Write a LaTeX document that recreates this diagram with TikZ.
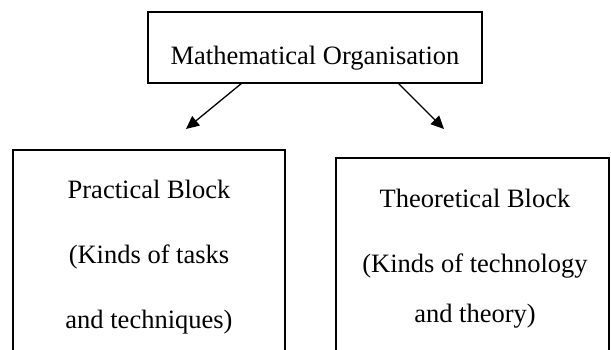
\documentclass[tikz,border=0pt]{standalone}
\usepackage{fontspec}
\setmainfont{Liberation Serif}
\usetikzlibrary{arrows.meta}
\begin{document}
\begin{tikzpicture}[x=1pt,y=-1pt,
  box/.style={draw,line width=1.5pt,inner sep=0,outer sep=0,rectangle},
  lbl/.style={font=\fontsize{26.5}{30}\selectfont,anchor=base,inner sep=0},
  arr/.style={line width=1.3pt,-{Triangle[length=13pt,width=12pt]}}]
\useasboundingbox (0,0) rectangle (611,349);
\clip (0,0) rectangle (611,349);
\node[box,minimum width=334,minimum height=71,anchor=north west] (top) at (148,12) {};
\node[lbl] (ttop) at (315,64) {Mathematical Organisation};
\node[box,minimum width=272,minimum height=230,anchor=north west] (left) at (13,150) {};
\node[lbl] (l1) at (149,198) {Practical Block};
\node[lbl] (l2) at (149,263) {(Kinds of tasks};
\node[lbl] (l3) at (149,328) {and techniques)};
\node[box,minimum width=273,minimum height=230,anchor=north west] (right) at (336,158) {};
\node[lbl] (r1) at (475,207) {Theoretical Block};
\node[lbl] (r2) at (475,272) {(Kinds of technology};
\node[lbl] (r3) at (475,322) {and theory)};
\coordinate (lt) at (186,129);
\coordinate (rt) at (444,129);
\draw[arr] ([xshift=94pt]top.south west) -- (lt);
\draw[arr] ([xshift=250pt]top.south west) -- (rt);
\end{tikzpicture}
\end{document}
